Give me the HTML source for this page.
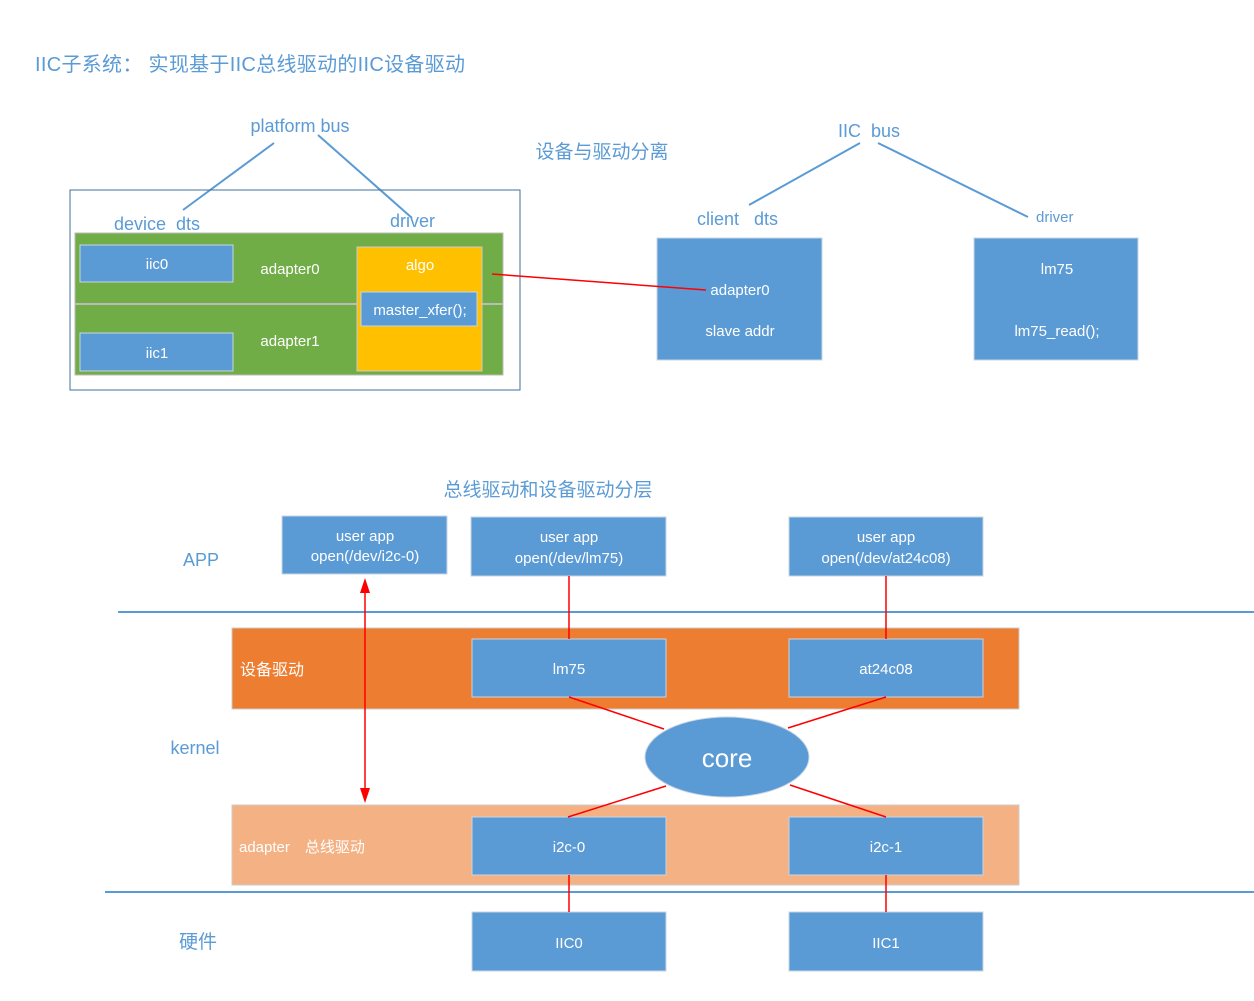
<!DOCTYPE html>
<html><head><meta charset="utf-8"><style>
body{margin:0;background:#fff}
svg text{font-family:"Liberation Sans","Noto Sans CJK SC",sans-serif}
</style></head><body>
<svg width="1254" height="996" xmlns="http://www.w3.org/2000/svg">
<g fill="#5B9BD5">
<text x="35" y="71" font-size="20" letter-spacing="0.3">IIC子系统：  实现基于IIC总线驱动的IIC设备驱动</text>
<text x="300" y="132" font-size="18" text-anchor="middle">platform bus</text>
<text x="114" y="230" font-size="18" xml:space="preserve">device  dts</text>
<text x="390" y="227" font-size="18">driver</text>
<text x="602" y="158" font-size="19" text-anchor="middle">设备与驱动分离</text>
<text x="838" y="137" font-size="18" xml:space="preserve">IIC  bus</text>
<text x="697" y="225" font-size="18" xml:space="preserve">client   dts</text>
<text x="1036" y="222" font-size="15">driver</text>
<text x="548" y="496" font-size="19" text-anchor="middle">总线驱动和设备驱动分层</text>
<text x="201" y="566" font-size="18" text-anchor="middle">APP</text>
<text x="195" y="754" font-size="18" text-anchor="middle">kernel</text>
<text x="198" y="948" font-size="19" text-anchor="middle">硬件</text>
</g>
<g stroke="#5B9BD5" stroke-width="2">
<line x1="274" y1="143" x2="183" y2="210"/><line x1="318" y1="135" x2="412" y2="218"/>
<line x1="860" y1="143" x2="749" y2="205"/><line x1="878" y1="143" x2="1028" y2="217"/>
<line x1="118" y1="612" x2="1254" y2="612"/><line x1="105" y1="892" x2="1254" y2="892"/>
</g>
<rect x="70" y="190" width="450" height="200" fill="none" stroke="#41719C"/>
<rect x="75" y="233" width="428" height="142" fill="#70AD47" stroke="#bbb"/>
<line x1="75" y1="304" x2="503" y2="304" stroke="#bbb" stroke-width="2"/>
<g fill="#5B9BD5" stroke="#c8d4e4">
<rect x="80" y="245" width="153" height="37"/><rect x="80" y="333" width="153" height="38"/>
</g>
<rect x="357" y="247" width="125" height="124" fill="#FFC000" stroke="#ccc"/>
<rect x="361" y="292" width="116" height="34" fill="#5B9BD5" stroke="#c8d4e4"/>
<g fill="#5B9BD5" stroke="#c8d4e4">
<rect x="657" y="238" width="165" height="122"/><rect x="974" y="238" width="164" height="122"/>
<rect x="282" y="516" width="165" height="58"/><rect x="471" y="517" width="195" height="59"/><rect x="789" y="517" width="194" height="59"/>
</g>
<rect x="232" y="628" width="787" height="81" fill="#ED7D31" stroke="#ccc"/>
<rect x="232" y="805" width="787" height="80" fill="#F4B183" stroke="#ccc"/>
<g fill="#5B9BD5" stroke="#c8d4e4">
<rect x="472" y="639" width="194" height="58"/><rect x="789" y="639" width="194" height="58"/>
<rect x="472" y="817" width="194" height="58"/><rect x="789" y="817" width="194" height="58"/>
<rect x="472" y="912" width="194" height="59"/><rect x="789" y="912" width="194" height="59"/>
</g>
<g stroke="#f00" stroke-width="1.5">
<line x1="492" y1="274" x2="706" y2="290"/>
<line x1="569" y1="576" x2="569" y2="639"/><line x1="886" y1="576" x2="886" y2="639"/>
<line x1="569" y1="697" x2="664" y2="729"/><line x1="886" y1="697" x2="788" y2="728"/>
<line x1="568" y1="817" x2="666" y2="786"/><line x1="886" y1="817" x2="790" y2="785"/>
<line x1="569" y1="875" x2="569" y2="912"/><line x1="886" y1="875" x2="886" y2="912"/>
<line x1="365" y1="593" x2="365" y2="788"/>
</g>
<path d="M365,578 L360,593 L370,593 z M365,803 L360,788 L370,788 z" fill="#f00"/>
<ellipse cx="727" cy="757" rx="82" ry="40" fill="#5B9BD5" stroke="#c8d4e4"/>
<g fill="#fff" font-size="15" text-anchor="middle">
<text x="157" y="269">iic0</text><text x="157" y="358">iic1</text>
<text x="290" y="274">adapter0</text><text x="290" y="346">adapter1</text>
<text x="420" y="270">algo</text><text x="420" y="315">master_xfer();</text>
<text x="740" y="295">adapter0</text><text x="740" y="336">slave addr</text>
<text x="1057" y="274">lm75</text><text x="1057" y="336">lm75_read();</text>
<text x="365" y="541">user app</text><text x="365" y="561">open(/dev/i2c-0)</text>
<text x="569" y="542">user app</text><text x="569" y="563">open(/dev/lm75)</text>
<text x="886" y="542">user app</text><text x="886" y="563">open(/dev/at24c08)</text>
<text x="569" y="674">lm75</text><text x="886" y="674">at24c08</text>
<text x="569" y="852">i2c-0</text><text x="886" y="852">i2c-1</text>
<text x="569" y="948">IIC0</text><text x="886" y="948">IIC1</text>
<text x="727" y="767" font-size="26">core</text>
<text x="240" y="675" font-size="16" text-anchor="start">设备驱动</text>
<text x="239" y="852" font-size="15" text-anchor="start">adapter　总线驱动</text>
</g>
</svg>
</body></html>
